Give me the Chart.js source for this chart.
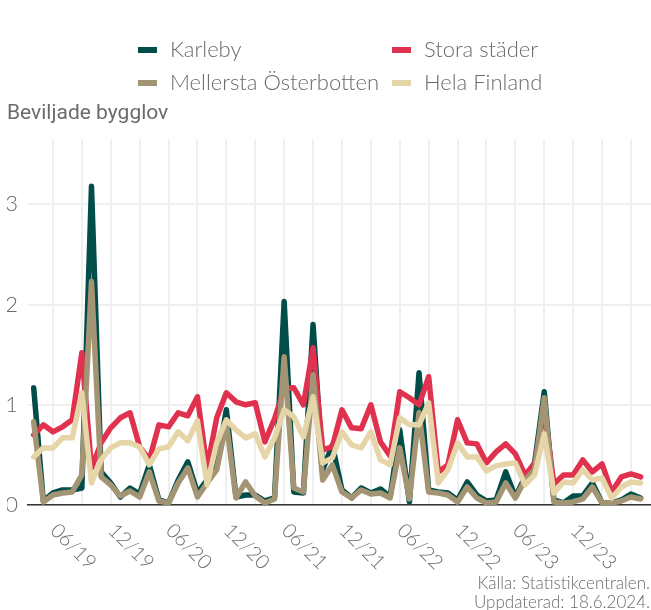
<!DOCTYPE html>
<html><head><meta charset="utf-8">
<script src="https://cdn.jsdelivr.net/npm/chart.js@4/dist/chart.umd.min.js"></script>
<style>html,body{margin:0;padding:0;background:#fff;overflow:hidden;} canvas{display:block;}</style>
</head><body>
<canvas id="c" width="651" height="610"></canvas>
<script>
const months = [
 '01/19','02/19','03/19','04/19','05/19','06/19','07/19','08/19','09/19','10/19','11/19','12/19',
 '01/20','02/20','03/20','04/20','05/20','06/20','07/20','08/20','09/20','10/20','11/20','12/20',
 '01/21','02/21','03/21','04/21','05/21','06/21','07/21','08/21','09/21','10/21','11/21','12/21',
 '01/22','02/22','03/22','04/22','05/22','06/22','07/22','08/22','09/22','10/22','11/22','12/22',
 '01/23','02/23','03/23','04/23','05/23','06/23','07/23','08/23','09/23','10/23','11/23','12/23',
 '01/24','02/24','03/24','04/24'];
const karleby = [1.17,0.04,0.12,0.15,0.15,0.17,3.18,0.33,0.22,0.08,
 0.17,0.11,0.40,0.05,0.02,0.25,0.43,0.12,0.25,0.40,
 0.95,0.08,0.10,0.10,0.04,0.07,2.03,0.13,0.12,1.80,
 0.35,0.60,0.15,0.07,0.17,0.12,0.16,0.08,0.75,0.03,
 1.32,0.15,0.13,0.12,0.05,0.23,0.10,0.04,0.05,0.33,
 0.08,0.28,0.42,1.13,0.05,0.02,0.09,0.09,0.22,0.02,
 0.02,0.05,0.11,0.07];
const storaStader = [0.70,0.80,0.73,0.78,0.85,1.52,0.37,0.62,0.77,0.87,
 0.92,0.58,0.45,0.80,0.78,0.92,0.89,1.08,0.37,0.87,
 1.12,1.03,1.00,1.02,0.63,0.86,1.16,1.17,1.00,1.57,
 0.55,0.58,0.95,0.77,0.76,1.00,0.63,0.49,1.13,1.07,
 1.00,1.28,0.33,0.40,0.85,0.62,0.61,0.42,0.53,0.61,
 0.51,0.30,0.41,0.95,0.21,0.30,0.30,0.45,0.33,0.41,
 0.13,0.28,0.31,0.28];
const mellersta = [0.83,0.03,0.10,0.12,0.13,0.30,2.23,0.28,0.20,0.09,
 0.14,0.08,0.33,0.04,0.02,0.22,0.37,0.08,0.22,0.35,
 0.82,0.07,0.23,0.09,0.02,0.06,1.48,0.17,0.13,1.30,
 0.25,0.40,0.13,0.07,0.15,0.11,0.12,0.07,0.57,0.06,
 0.92,0.13,0.12,0.10,0.03,0.18,0.07,0.02,0.03,0.22,
 0.07,0.25,0.35,1.07,0.03,0.02,0.03,0.06,0.18,0.02,
 0.02,0.04,0.08,0.06];
const helaFinland = [0.48,0.57,0.57,0.67,0.67,1.12,0.22,0.45,0.57,0.62,
 0.62,0.58,0.40,0.56,0.58,0.73,0.64,0.84,0.20,0.62,
 0.85,0.75,0.67,0.71,0.48,0.67,0.95,0.88,0.68,1.08,
 0.42,0.47,0.73,0.60,0.57,0.73,0.45,0.40,0.87,0.80,
 0.80,1.02,0.22,0.35,0.62,0.48,0.48,0.34,0.39,0.41,
 0.42,0.20,0.30,0.71,0.12,0.23,0.22,0.35,0.25,0.27,
 0.07,0.18,0.23,0.22];
const seriesNames = ['Karleby','Stora städer','Mellersta Österbotten','Hela Finland'];
const seriesColors = ['#004d4a','#e0314f','#a39573','#e5d5a8'];
const labelMonthCodes = ['06','12'];
const gridMonthCodes = ['03','06','09','12'];
const yTickValues = [0,1,2,3];
const titleText = 'Beviljade bygglov';
const sourceLines = ['Källa: Statistikcentralen.','Uppdaterad: 18.6.2024.'];

const seriesValues = [karleby, storaStader, mellersta, helaFinland];
const toPoints = arr => arr.map((v,i)=>({x:i,y:v}));
const LIGHT = 'Lato, "Open Sans", sans-serif';

const datasets = seriesValues.map((vals,k)=>({
  label: seriesNames[k],
  data: toPoints(vals),
  borderColor: seriesColors[k],
  backgroundColor: seriesColors[k],
  borderWidth: 5.5,
  pointRadius: 0,
  tension: 0,
  borderJoinStyle: 'round',
  borderCapStyle: 'round',
  order: seriesValues.length - k
}));

const extrasPlugin = {
  id: 'extras',
  afterDraw(chart){
    const {ctx, chartArea, scales:{x}} = chart;
    ctx.save();
    // legend grid
    const colX = [138, 392];
    const rowY = [50, 83];
    ctx.font = '300 22px ' + LIGHT;
    ctx.textBaseline = 'middle';
    ctx.textAlign = 'left';
    chart.data.datasets.forEach((ds,i)=>{
      const cx = colX[i%2], cy = rowY[Math.floor(i/2)];
      ctx.fillStyle = ds.borderColor;
      ctx.fillRect(cx, cy-3, 19, 6);
      ctx.fillStyle = '#6b6b6b';
      ctx.fillText(ds.label, cx+32, cy);
    });
    // x tick labels
    ctx.font = '300 20px ' + LIGHT;
    ctx.fillStyle = '#6b6b6b';
    ctx.textBaseline = 'top';
    months.forEach((m,i)=>{
      if(!labelMonthCodes.includes(m.slice(0,2))) return;
      const px = x.getPixelForValue(i);
      ctx.save();
      ctx.translate(px - 21, chartArea.bottom + 15);
      ctx.rotate(Math.PI/4);
      ctx.fillText(m, 0, 0);
      ctx.restore();
    });
    // source
    ctx.font = '300 17px ' + LIGHT;
    ctx.textAlign = 'right';
    ctx.textBaseline = 'alphabetic';
    ctx.fillText(sourceLines[0], 650, 589);
    ctx.fillText(sourceLines[1], 650, 608);
    ctx.restore();
  }
};

new Chart(document.getElementById('c'), {
  type: 'line',
  data: { datasets },
  options: {
    responsive: false,
    animation: false,
    layout: { padding: { top: 101, left: 7, right: 0, bottom: 105 } },
    plugins: {
      legend: { display: false },
      tooltip: { enabled: false },
      title: {
        display: true, text: titleText, align: 'start',
        color: '#6b6b6b', font: { family: 'Roboto, "Liberation Sans", Arial, sans-serif', size: 21, weight: 'normal' },
        padding: { top: 0, bottom: 13 }
      }
    },
    scales: {
      x: {
        type: 'linear', min: -0.59, max: 64.08,
        afterBuildTicks: s => { s.ticks = months.map((m,i)=>gridMonthCodes.includes(m.slice(0,2)) ? {value:i} : null).filter(Boolean); },
        ticks: { display: false },
        grid: { color: '#efefef', lineWidth: 2, drawTicks: false },
        border: { display: true, color: '#333', width: 1.5 }
      },
      y: {
        min: 0, max: 3.65,
        afterBuildTicks: s => { s.ticks = yTickValues.map(v=>({value:v})); },
        afterFit: s => { s.width = 21; },
        ticks: { color: '#6b6b6b', padding: 10, font: { family: LIGHT, size: 22, weight: 300 } },
        grid: { color: '#efefef', lineWidth: 2, drawTicks: false },
        border: { display: false }
      }
    }
  },
  plugins: [extrasPlugin]
});
</script>
</body></html>
